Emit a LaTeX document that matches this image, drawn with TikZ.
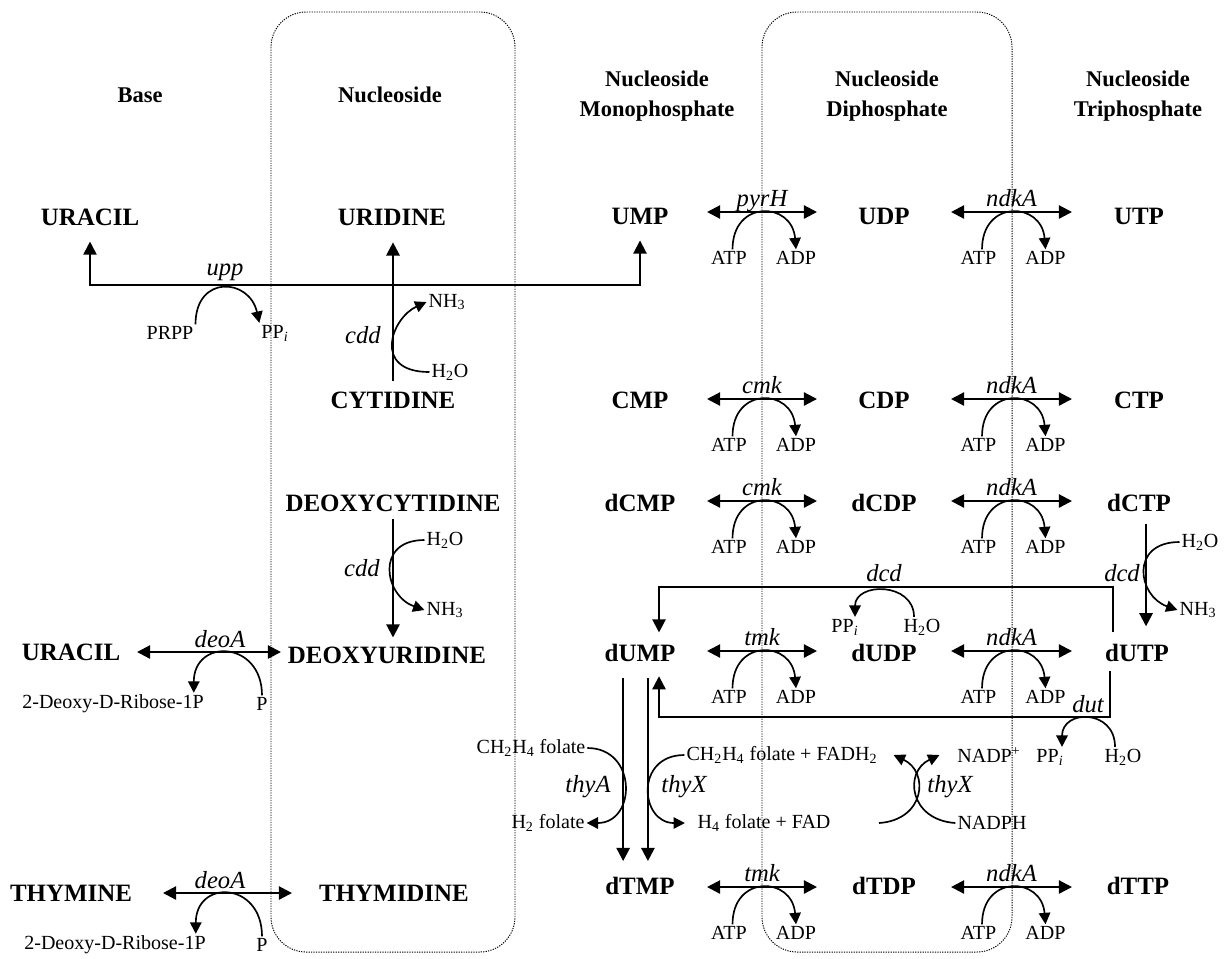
\documentclass[tikz,border=0pt]{standalone}
\usepackage{fontspec}
\setmainfont{Liberation Serif}
\usetikzlibrary{arrows.meta,calc}
\tikzset{
  metab/.style={font=\fontsize{14.2}{16}\selectfont\bfseries, inner sep=1pt},
  header/.style={font=\fontsize{12.8}{17}\selectfont\bfseries, align=center, inner sep=1pt},
  cofactor/.style={font=\fontsize{11.4}{13}\selectfont, inner sep=1pt},
  enzyme/.style={font=\fontsize{14}{16}\selectfont\itshape, inner sep=0pt},
  rxn/.style={line width=1.25pt, -{Triangle[length=7.5pt,width=7.5pt]}},
  revrxn/.style={line width=1.25pt, {Triangle[length=7.5pt,width=7.5pt]}-{Triangle[length=7.5pt,width=7.5pt]}},
  siderxn/.style={line width=0.95pt, -{Triangle[length=6.5pt,width=6.5pt]}},
  compartment/.style={line width=0.55pt, dash pattern=on 0.7pt off 0.7pt, rounded corners=20pt}
}
\begin{document}
\begin{tikzpicture}[x=0.02cm, y=-0.02cm]
  \useasboundingbox (0,0) rectangle (1229,958);
  \draw[compartment] (271,12) rectangle (515,952);
  \draw[compartment] (762,12) rectangle (1012,952);

  \node[header] (hbase) at (140,95) {Base};
  \node[header] (hnuc) at (390,95) {Nucleoside};
  \node[header] (hmono) at (657,96) {Nucleoside\\Monophosphate};
  \node[header] (hdi) at (887,96) {Nucleoside\\Diphosphate};
  \node[header] (htri) at (1138,96) {Nucleoside\\Triphosphate};

  \node[metab] (ura) at (90,217) {URACIL};
  \node[metab] (urd) at (392,217) {URIDINE};
  \node[metab] (ump) at (640,216) {UMP};
  \node[metab] (udp) at (884,216) {UDP};
  \node[metab] (utp) at (1139,216) {UTP};
  \node[metab] (cyd) at (393,400) {CYTIDINE};
  \node[metab] (cmp) at (640,400) {CMP};
  \node[metab] (cdp) at (884,400) {CDP};
  \node[metab] (ctp) at (1139,400) {CTP};
  \node[metab] (dcyd) at (393,503) {DEOXYCYTIDINE};
  \node[metab] (dcmp) at (640,503) {dCMP};
  \node[metab] (dcdp) at (884,503) {dCDP};
  \node[metab] (dctp) at (1139,503) {dCTP};
  \node[metab] (urab) at (71,652) {URACIL};
  \node[metab] (durd) at (387,655) {DEOXYURIDINE};
  \node[metab] (dump) at (640,653) {dUMP};
  \node[metab] (dudp) at (884,653) {dUDP};
  \node[metab] (dutp) at (1137,653) {dUTP};
  \node[metab] (thy) at (71,893) {THYMINE};
  \node[metab] (thd) at (394,893) {THYMIDINE};
  \node[metab] (dtmp) at (640,886) {dTMP};
  \node[metab] (dtdp) at (884,886) {dTDP};
  \node[metab] (dttp) at (1138,886) {dTTP};

  \foreach \nm/\xa/\xb/\yy/\enz in {pyrh/707/817/212/pyrH, ndkau/951/1072/212/ndkA, cmkc/707/817/399/cmk, ndkac/951/1072/399/ndkA, cmkd/707/817/501/cmk, ndkad/951/1072/501/ndkA, tmku/707/817/651/tmk, ndkadu/951/1072/651/ndkA, tmkt/707/817/887/tmk, ndkat/951/1072/887/ndkA}{
    \pgfmathsetmacro{\xm}{(\xa+\xb)/2}
    \coordinate (\nm-l) at (\xa,\yy);
    \coordinate (\nm-r) at (\xb,\yy);
    \draw[revrxn] (\nm-l) -- (\nm-r);
    \node[enzyme, anchor=base] (\nm-enz) at (\xm,\yy-6) {\enz};
    \node[cofactor] (\nm-atp) at (\xm-33,\yy+46) {ATP};
    \node[cofactor] (\nm-adp) at (\xm+34,\yy+46) {ADP};
    \draw[siderxn] ([xshift=2pt]\nm-atp.north) .. controls +(0,-50) and +(-4,-48) .. (\nm-adp.north);
  }

  \foreach \nm/\xa/\xb/\yy/\dx in {deoau/137/281/652/113, deoat/163/292/893/115}{
    \coordinate (\nm-l) at (\xa,\yy);
    \coordinate (\nm-r) at (\xb,\yy);
    \draw[revrxn] (\nm-l) -- (\nm-r);
    \node[enzyme, anchor=base] (\nm-enz) at (220,\yy-5) {deoA};
    \node[cofactor] (\nm-rib) at (\dx,\yy+52) {2-Deoxy-D-Ribose-1P};
    \node[cofactor] (\nm-p) at (262,\yy+52) {P};
    \draw[siderxn] (\nm-p.north) .. controls +(0,-55) and +(0,-55) .. ($(\nm-rib.north east)+(-12,0)$);
  }

  \coordinate (upp-hub) at (380,285);
  \draw[revrxn, line width=1.1pt, shorten <=8pt, shorten >=8pt] (ura.south) |- (upp-hub) -| (ump.south);
  \node[enzyme, anchor=base] (upp) at (225,275) {upp};
  \node[cofactor] (prpp) at (170,333) {PRPP};
  \node[cofactor] (uppi) at (275,333) {PP\textsubscript{\textit{i}}};
  \draw[siderxn] (prpp.north east) .. controls +(0,-50) and +(-10,-45) .. (uppi.north west);

  \draw[rxn, shorten <=5pt, shorten >=8.5pt] (cyd.north) -- (cyd.north |- urd.south);
  \node[enzyme] (cdda) at (363,335) {cdd};
  \node[cofactor] (nhtha) at (447,302) {NH\textsubscript{3}};
  \node[cofactor] (h2oa) at (450,372) {H\textsubscript{2}O};
  \draw[siderxn] (h2oa.west) .. controls +(-58,0) and +(-35,16) .. (nhtha.west);

  \draw[rxn, shorten <=3pt, shorten >=4pt] (dcyd.south) -- (dcyd.south |- durd.north);
  \node[enzyme] (cddb) at (362,568) {cdd};
  \node[cofactor] (h2ob) at (445,540) {H\textsubscript{2}O};
  \node[cofactor] (nhthb) at (445,610) {NH\textsubscript{3}};
  \draw[siderxn] (h2ob.west) .. controls +(-50,0) and +(-40,-14) .. (nhthb.west);

  \coordinate (dcd-r) at (1113,587);
  \coordinate (dcd-l) at (659,587);
  \draw[rxn, shorten <=5.5pt, shorten >=5.5pt] (dcd-r |- dutp.north) -- (dcd-r) -- (dcd-l) -- (dcd-l |- dump.north);
  \node[enzyme, anchor=base] (dcdm) at (884,581) {dcd};
  \node[cofactor] (dcdpp) at (845,627) {PP\textsubscript{\textit{i}}};
  \node[cofactor] (dcdh) at (922,627) {H\textsubscript{2}O};
  \draw[siderxn] ($(dcdh.north)+(-8,0)$) .. controls +(0,-35) and +(0,-35) .. ($(dcdpp.north)+(10,0)$);

  \draw[rxn, shorten <=5.5pt, shorten >=9pt] ([xshift=4pt]dctp.south) -- ([xshift=4pt]dctp.south |- dutp.north);
  \node[enzyme] (dcdr) at (1122,573) {dcd};
  \node[cofactor] (h2oc) at (1200,542) {H\textsubscript{2}O};
  \node[cofactor] (nhthc) at (1198,610) {NH\textsubscript{3}};
  \draw[siderxn] (h2oc.west) .. controls +(-50,0) and +(-40,-14) .. (nhthc.west);

  \coordinate (dut-r) at (1110,717);
  \coordinate (dut-l) at (659,717);
  \draw[rxn, shorten <=4pt, shorten >=7pt] (dut-r |- dutp.south) -- (dut-r) -- (dut-l) -- (dut-l |- dump.south);
  \node[enzyme, anchor=base] (dut) at (1088,712) {dut};
  \node[cofactor] (dutpp) at (1050,757) {PP\textsubscript{\textit{i}}};
  \node[cofactor] (duth) at (1123,757) {H\textsubscript{2}O};
  \draw[siderxn] ($(duth.north)+(-8,0)$) .. controls +(0,-38) and +(0,-38) .. ($(dutpp.north)+(12,0)$);

  \draw[rxn, shorten <=8pt, shorten >=8pt] ([xshift=-9.6pt]dump.south) -- ([xshift=-9.6pt]dump.south |- dtmp.north);
  \draw[rxn, shorten <=8pt, shorten >=8pt] ([xshift=4.5pt]dump.south) -- ([xshift=4.5pt]dump.south |- dtmp.north);

  \node[cofactor] (mthf) at (531,748) {CH\textsubscript{2}H\textsubscript{4} folate};
  \node[cofactor] (dhf) at (548,823) {H\textsubscript{2} folate};
  \node[enzyme] (thya) at (588,787) {thyA};
  \draw[siderxn] (mthf.east) .. controls +(50,0) and +(50,0) .. (dhf.east);

  \node[cofactor] (mthfx) at (782,755) {CH\textsubscript{2}H\textsubscript{4} folate + FADH\textsubscript{2}};
  \node[cofactor] (thfx) at (764,823) {H\textsubscript{4} folate + FAD};
  \node[enzyme] (thyxa) at (684,787) {thyX};
  \draw[siderxn] (mthfx.west) .. controls +(-50,0) and +(-45,0) .. ([xshift=-6pt]thfx.west);

  \node[cofactor] (nadp) at (989,755) {NADP\textsuperscript{+}};
  \node[cofactor] (nadph) at (992,823) {NADPH};
  \node[enzyme] (thyxb) at (950,787) {thyX};
  \coordinate (thyx-in) at (879,823);
  \draw[siderxn] (thyx-in) .. controls +(46,-3) and +(36,17) .. ([xshift=8pt]mthfx.east);
  \draw[siderxn] (nadph.west) .. controls +(-46,-3) and +(-36,17) .. ([xshift=-9pt]nadp.west);
\end{tikzpicture}
\end{document}
